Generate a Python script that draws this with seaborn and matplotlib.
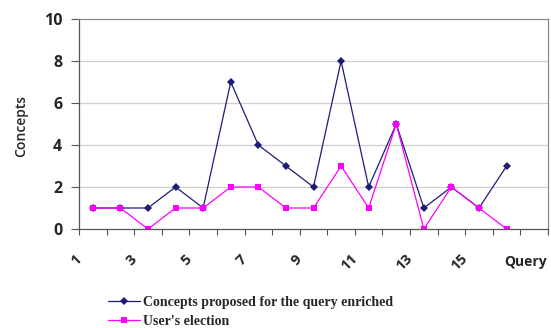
import matplotlib
matplotlib.use("Agg")
import matplotlib.pyplot as plt
from matplotlib.font_manager import FontProperties
import seaborn as sns
import pandas as pd

# Number of concepts per query
queries = list(range(1, 17))
proposed = [1, 1, 1, 2, 1, 7, 4, 3, 2, 8, 2, 5, 1, 2, 1, 3]
elected = [1, 1, 0, 1, 1, 2, 2, 1, 1, 3, 1, 5, 0, 2, 1, 0]
series_names = ["Concepts proposed for the query enriched", "User's election"]
x_tick_labels = ["1", "3", "5", "7", "9", "11", "13", "15"]
y_ticks = [0, 2, 4, 6, 8, 10]

sns.set_theme(style="white")
plt.rcParams["font.family"] = ["Open Sans", "DejaVu Sans"]

fig = plt.figure(figsize=(5.51, 3.28), dpi=100)
W, H = 551, 328
ax = fig.add_axes([79 / W, 1 - 229 / H, 469 / W, 210 / H])

df = pd.DataFrame({
    "Query": queries * 2,
    "Concepts": proposed + elected,
    "Series": [series_names[0]] * len(queries) + [series_names[1]] * len(queries),
})

styles = {
    series_names[0]: dict(color="#1c1c78", marker="D", markersize=3.6),
    series_names[1]: dict(color="#ff00ff", marker="s", markersize=4.2),
}
for name in series_names:
    sub = df[df["Series"] == name]
    st = styles[name]
    sns.lineplot(data=sub, x="Query", y="Concepts", ax=ax, color=st["color"],
                 marker=st["marker"], markersize=st["markersize"],
                 markeredgewidth=0, linewidth=0.9, label=name, legend=False)

# category axis: 17 slots, ticks on slot boundaries
ax.set_xlim(0.5, 17.5)
ax.set_ylim(0, 10)
boundaries = [b + 0.5 for b in range(0, 18)]
ax.set_xticks(boundaries)
labels = []
for i in range(len(boundaries)):
    labels.append(x_tick_labels[i // 2] if (i % 2 == 0 and i // 2 < len(x_tick_labels)) else "")
ax.set_xticklabels(labels, rotation=45, ha="right", va="center",
                   rotation_mode="anchor", fontsize=10.5, fontweight="bold")
ax.tick_params(axis="x", direction="out", length=4, width=0.8, pad=16,
               color="#555555", bottom=True)

ax.set_yticks(y_ticks)
ax.set_yticklabels([str(v) for v in y_ticks], fontsize=11.5, fontweight="bold")
ax.tick_params(axis="y", direction="out", length=6, width=0.8, pad=6,
               color="#555555", left=True)

for v in y_ticks[1:-1]:
    ax.axhline(v, color="#cfcfcf", linewidth=0.9, zorder=0)

for side in ["left", "bottom"]:
    ax.spines[side].set_color("#555555")
    ax.spines[side].set_linewidth(0.9)
for side in ["top", "right"]:
    ax.spines[side].set_color("#8a8a8a")
    ax.spines[side].set_linewidth(0.9)

ax.set_xlabel("Query", fontsize=10, fontweight="bold")
ax.xaxis.set_label_coords((526 - 79) / 469, (229 - 262) / 210)
ax.xaxis.label.set_va("center")
ax.set_ylabel("Concepts", fontsize=10, fontweight="semibold")
ax.yaxis.set_label_coords((21 - 79) / 469, 0.49)
ax.yaxis.label.set_va("center")

legend_font = FontProperties(family=["Liberation Serif", "DejaVu Serif"],
                             weight="bold", size=10)
handles = ax.get_lines()[:2]
fig.legend(handles, series_names, loc="upper left",
           bbox_to_anchor=(108 / W, 1 - 296 / H), frameon=False,
           prop=legend_font, handlelength=2.3, handletextpad=0.2,
           labelspacing=0.45, borderaxespad=0, borderpad=0)

fig.savefig("out.png", dpi=100)
